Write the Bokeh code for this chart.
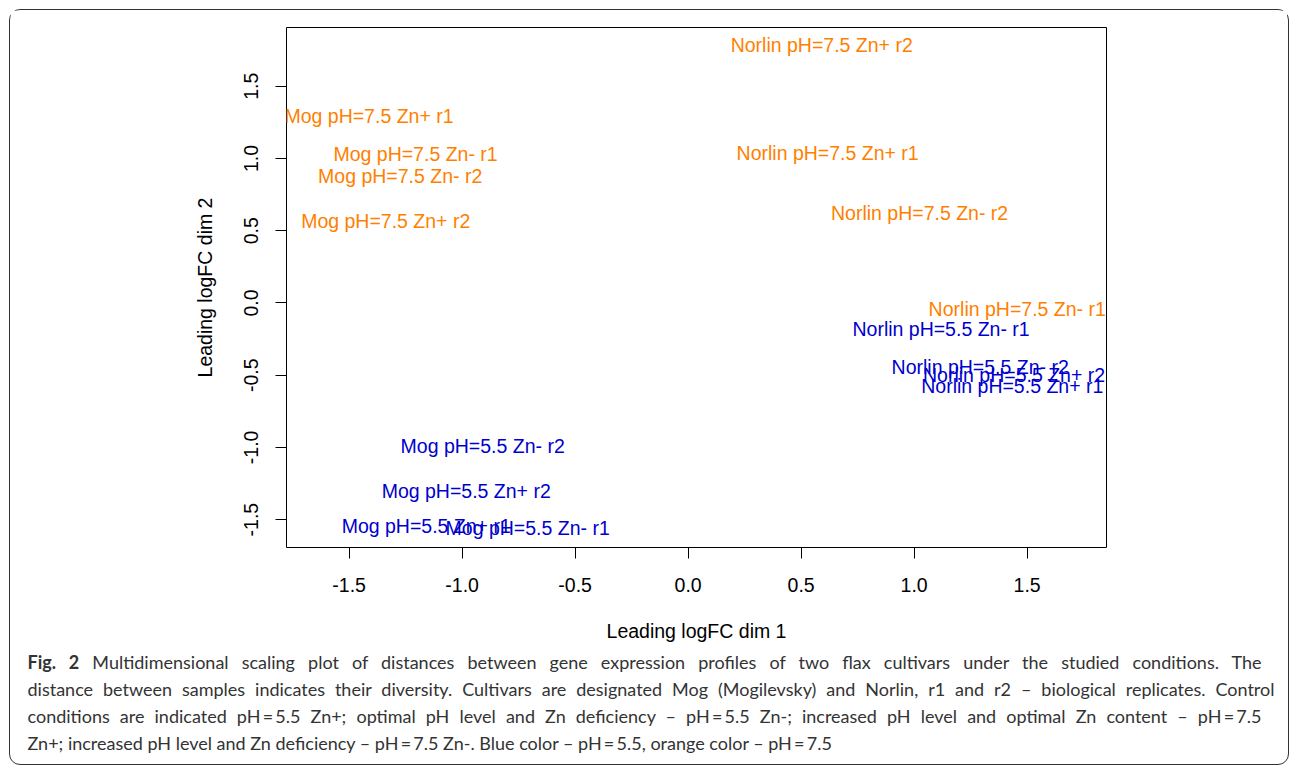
from bokeh.plotting import figure
from bokeh.models import ColumnDataSource, Range1d, FixedTicker, PrintfTickFormatter, Div
from bokeh.layouts import column
from bokeh.core.properties import value
from bokeh.embed import file_html
from bokeh.resources import INLINE

# ---- data ----
labels = [
    "Norlin pH=7.5 Zn+ r2", "Norlin pH=7.5 Zn+ r1", "Norlin pH=7.5 Zn- r2", "Norlin pH=7.5 Zn- r1",
    "Mog pH=7.5 Zn+ r1", "Mog pH=7.5 Zn- r1", "Mog pH=7.5 Zn- r2", "Mog pH=7.5 Zn+ r2",
    "Norlin pH=5.5 Zn- r1", "Norlin pH=5.5 Zn- r2", "Norlin pH=5.5 Zn+ r2", "Norlin pH=5.5 Zn+ r1",
    "Mog pH=5.5 Zn- r2", "Mog pH=5.5 Zn+ r2", "Mog pH=5.5 Zn+ r1", "Mog pH=5.5 Zn- r1",
]
dim1 = [0.591, 0.617, 1.024, 1.456,
        -1.412, -1.206, -1.274, -1.338,
        1.119, 1.292, 1.442, 1.434,
        -0.909, -0.982, -1.159, -0.710]
dim2 = [1.783, 1.038, 0.624, -0.045,
        1.293, 1.031, 0.879, 0.569,
        -0.183, -0.445, -0.500, -0.576,
        -0.990, -1.300, -1.541, -1.555]
ph = ["7.5"] * 8 + ["5.5"] * 8
ticks = [-1.5, -1.0, -0.5, 0.0, 0.5, 1.0, 1.5]
x_title = "Leading logFC dim 1"
y_title = "Leading logFC dim 2"
caption_lines = [
    "<b>Fig. 2</b> Multidimensional scaling plot of distances between gene expression profiles of two flax cultivars under the studied conditions. The",
    "distance between samples indicates their diversity. Cultivars are designated Mog (Mogilevsky) and Norlin, r1 and r2 \u2013 biological replicates. Control",
    "conditions are indicated pH\u2009=\u20095.5 Zn+; optimal pH level and Zn deficiency \u2013 pH\u2009=\u20095.5 Zn-; increased pH level and optimal Zn content \u2013 pH\u2009=\u20097.5",
    "Zn+; increased pH level and Zn deficiency \u2013 pH\u2009=\u20097.5 Zn-. Blue color \u2013 pH\u2009=\u20095.5, orange color \u2013 pH\u2009=\u20097.5",
]
caption_widths = [1234, 1247, 1234, None]   # justified lines (last line is not)

colour_map = {"7.5": "#FF7F00", "5.5": "#0000CD"}
colors = [colour_map[v] for v in ph]

src = ColumnDataSource(dict(x=dim1, y=dim2, label=labels, color=colors))

FONT = "Liberation Sans"
FS = "19.5px"

p = figure(width=1277, height=634,
           x_range=Range1d(-1.777, 1.851), y_range=Range1d(-1.693, 1.907),
           min_border_left=276, min_border_right=181, min_border_top=17, min_border_bottom=95,
           output_backend="svg", toolbar_location=None, margin=0)

p.text(x="x", y="y", text="label", source=src, text_color="color",
       text_align="center", text_baseline="middle",
       text_font=value(FONT), text_font_size=FS)

p.grid.visible = False
p.outline_line_color = "black"
p.outline_line_width = 1
p.background_fill_color = "white"
p.border_fill_color = "white"

for ax in (p.xaxis[0], p.yaxis[0]):
    ax.ticker = FixedTicker(ticks=ticks)
    ax.formatter = PrintfTickFormatter(format="%.1f")
    ax.axis_line_color = None
    ax.major_tick_in = 0
    ax.major_tick_out = 11
    ax.major_tick_line_color = "black"
    ax.minor_tick_line_color = None
    ax.major_label_text_font = FONT
    ax.major_label_text_font_size = FS
    ax.major_label_text_color = "black"
    ax.axis_label_text_font = FONT
    ax.axis_label_text_font_size = FS
    ax.axis_label_text_font_style = "normal"
    ax.axis_label_text_color = "black"

p.xaxis.axis_label = x_title
p.yaxis.axis_label = y_title
p.xaxis.major_label_standoff = 19
p.xaxis.axis_label_standoff = 25
p.yaxis.major_label_standoff = 17
p.yaxis.axis_label_standoff = 26
p.yaxis.major_label_orientation = "vertical"

html_lines = []
for line, w in zip(caption_lines, caption_widths):
    if w is None:
        html_lines.append('<div style="white-space:nowrap">%s</div>' % line)
    else:
        html_lines.append('<div style="width:%dpx;white-space:nowrap;text-align:justify;'
                          'text-align-last:justify">%s</div>' % (w, line))

cap = Div(text="".join(html_lines), width=1277, height=119, margin=0,
          styles={"font-family": "Lato", "font-size": "18px", "line-height": "27px",
                  "color": "#333333", "padding-left": "17.5px", "padding-top": "5px",
                  "box-sizing": "border-box"})

layout = column(p, cap, margin=(9, 0, 0, 9), width=1280, height=756, sizing_mode="fixed",
                styles={"border": "1.5px solid #333333", "border-radius": "11px",
                        "background-color": "white", "box-sizing": "border-box"})

open("out.html", "w").write(file_html(layout, INLINE))
